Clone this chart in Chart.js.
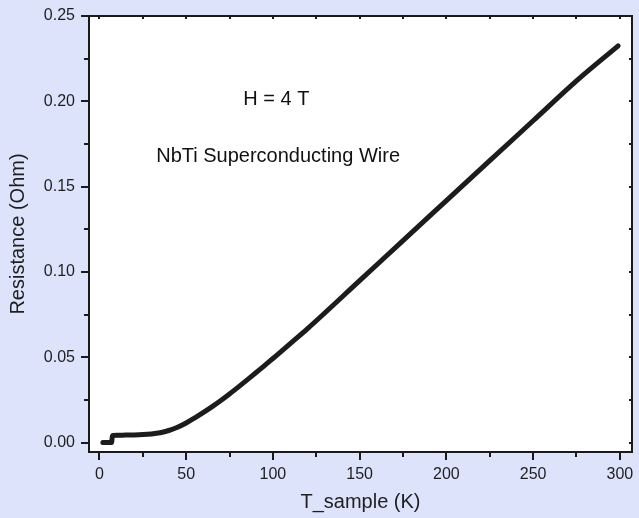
<!DOCTYPE html>
<html><head><meta charset="utf-8">
<script src="https://cdn.jsdelivr.net/npm/chart.js@4"></script>
<style>html,body{margin:0;padding:0;background:#dde3fb;}#c{display:block;}</style>
</head><body>
<canvas id="c" width="639" height="518"></canvas>
<script>
const temps = [2,3,4,5,6,7,7.5,8,10,15,20,25,30,35,40,45,50,55,60,65,70,75,80,85,90,95,100,105,110,120,150,175,200,225,250,275,299];
const resistance = [0,0,0,0,0,0,0.004,0.0042,0.0043,0.0044,0.0045,0.0047,0.0051,0.0058,0.0071,0.009,0.0115,0.0145,0.0177,0.0211,0.0247,0.0285,0.0325,0.0366,0.0408,0.045,0.0493,0.0536,0.058,0.0668,0.0949,0.1184,0.1418,0.1652,0.1886,0.212,0.2325];
const xMajorTicks = [0,50,100,150,200,250,300];
const xMinorTicks = [25,75,125,175,225,275];
const yMajorTicks = [0,0.05,0.10,0.15,0.20,0.25];
const yMinorTicks = [0.025,0.075,0.125,0.175,0.225];
const xTitle = 'T_sample (K)';
const yTitle = 'Resistance (Ohm)';
const notes = [{text:'H = 4 T', x:102, y:0.1978},{text:'NbTi Superconducting Wire', x:103, y:0.1646}];

const FONT = "'Liberation Sans', Arial, sans-serif";
const frame = {
  id:'frame',
  beforeDraw(chart){
    const {ctx, chartArea:a} = chart;
    ctx.save();
    ctx.fillStyle='#ffffff';
    ctx.fillRect(a.left,a.top,a.right-a.left,a.bottom-a.top);
    ctx.restore();
  },
  afterDraw(chart){
    const {ctx, chartArea:a, scales:{x,y}} = chart;
    ctx.save();
    ctx.strokeStyle='#1a1a1a';
    ctx.lineWidth=2;
    ctx.strokeRect(a.left,a.top,a.right-a.left,a.bottom-a.top);
    const tk=(x1,y1,x2,y2)=>{ctx.beginPath();ctx.moveTo(x1,y1);ctx.lineTo(x2,y2);ctx.stroke();};
    xMajorTicks.forEach(v=>{const p=Math.round(x.getPixelForValue(v));tk(p,a.bottom,p,a.bottom+8);tk(p,a.top,p,a.top+3);});
    xMinorTicks.forEach(v=>{const p=Math.round(x.getPixelForValue(v));tk(p,a.bottom,p,a.bottom+5);tk(p,a.top,p,a.top+3);});
    yMajorTicks.forEach(v=>{const p=Math.round(y.getPixelForValue(v));tk(a.left-8,p,a.left,p);tk(a.right-3,p,a.right,p);});
    yMinorTicks.forEach(v=>{const p=Math.round(y.getPixelForValue(v));tk(a.left-5,p,a.left,p);tk(a.right-3,p,a.right,p);});
    ctx.fillStyle='#111';
    ctx.font='20px '+FONT;
    ctx.textAlign='center';
    ctx.textBaseline='alphabetic';
    notes.forEach(n=>ctx.fillText(n.text, x.getPixelForValue(n.x), y.getPixelForValue(n.y)));
    ctx.restore();
  }
};

new Chart(document.getElementById('c'),{
  type:'line',
  data:{datasets:[{
    data: temps.map((t,i)=>({x:t,y:resistance[i]})),
    borderColor:'#1c1c1c',
    borderWidth:5,
    borderCapStyle:'round',
    borderJoinStyle:'round',
    pointRadius:0,
    cubicInterpolationMode:'monotone'
  }]},
  options:{
    responsive:false,
    animation:false,
    layout:{padding:{left:0,right:7,top:16,bottom:0}},
    plugins:{legend:{display:false},tooltip:{enabled:false}},
    scales:{
      x:{type:'linear',min:-6,max:307,
        afterFit(s){s.height=66;s.paddingLeft=0;s.paddingRight=0;},
        afterBuildTicks(s){s.ticks=xMajorTicks.map(v=>({value:v}));},
        grid:{display:false,drawTicks:false},
        border:{display:false},
        ticks:{padding:13,color:'#1e1e1e',font:{family:FONT,size:16},maxRotation:0,autoSkip:false},
        title:{display:true,text:xTitle,color:'#1e1e1e',font:{family:FONT,size:20},padding:{top:0,bottom:4}}
      },
      y:{type:'linear',min:-0.0055,max:0.25,
        afterFit(s){s.width=89;s.paddingTop=0;s.paddingBottom=0;},
        afterBuildTicks(s){s.ticks=yMajorTicks.map(v=>({value:v}));},
        grid:{display:false,drawTicks:false},
        border:{display:false},
        ticks:{padding:14,color:'#1e1e1e',font:{family:FONT,size:16},autoSkip:false,callback:v=>v.toFixed(2)},
        title:{display:true,text:yTitle,color:'#1e1e1e',font:{family:FONT,size:20},padding:{top:6,bottom:0}}
      }
    }
  },
  plugins:[frame]
});
</script>
</body></html>
